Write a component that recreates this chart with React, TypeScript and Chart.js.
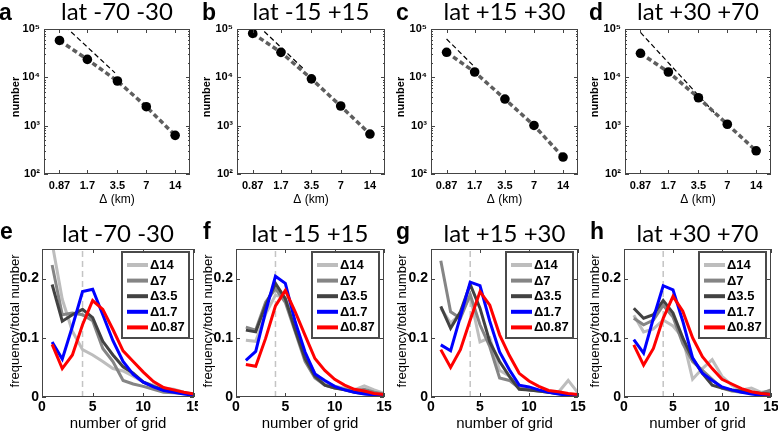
import React, { useEffect, useRef } from "react";
import { Chart, registerables } from "chart.js";

Chart.register(...registerables);

// ---------------- data ----------------
const DELTA_KM = [0.87, 1.7, 3.5, 7, 14];
const DELTA_LABELS = ["0.87", "1.7", "3.5", "7", "14"];
const COUNT_TICKS = [100, 1000, 10000, 100000];

const COUNT_A = [58000, 23500, 8400, 2470, 630];
const COUNT_B = [81000, 32900, 9300, 2550, 670];
const COUNT_C = [33000, 12900, 3550, 1010, 224];
const COUNT_D = [31400, 12900, 3780, 1070, 302];

const REF_A_X = [0.87, 3.3];
const REF_A_Y = [146000, 12400];
const REF_B_X = [0.87, 3.0];
const REF_B_Y = [150000, 14100];
const REF_C_X = [0.87, 1.65];
const REF_C_Y = [62000, 17400];
const REF_D_X = [0.87, 5.2];
const REF_D_Y = [85000, 1800];

const GRID_N = [1, 2, 3, 4, 5, 6, 7, 8, 9, 10, 11, 12, 13, 14, 15];
const GRID_TICKS = [0, 5, 10, 15];
const FREQ_TICKS = [0, 0.1, 0.2];
const SERIES_NAMES = ["Δ14", "Δ7", "Δ3.5", "Δ1.7", "Δ0.87"];
const SERIES_COLORS = ["#bdbdbd", "#858585", "#424242", "#0000ff", "#ff0000"];

const E_D14 = [0.26, 0.165, 0.111, 0.08, 0.071, 0.06, 0.048, 0.044, 0.035, 0.025, 0.02, 0.015, 0.013, 0.008, 0.005];
const E_D7 = [0.223, 0.139, 0.142, 0.139, 0.129, 0.082, 0.06, 0.028, 0.022, 0.018, 0.013, 0.008, 0.007, 0.006, 0.004];
const E_D35 = [0.19, 0.128, 0.139, 0.148, 0.134, 0.094, 0.071, 0.051, 0.04, 0.025, 0.018, 0.012, 0.01, 0.007, 0.004];
const E_D17 = [0.093, 0.064, 0.119, 0.178, 0.182, 0.139, 0.095, 0.06, 0.038, 0.025, 0.017, 0.011, 0.008, 0.005, 0.003];
const E_D087 = [0.089, 0.048, 0.071, 0.122, 0.163, 0.148, 0.114, 0.078, 0.06, 0.042, 0.026, 0.016, 0.012, 0.008, 0.005];

const F_D14 = [0.096, 0.094, 0.14, 0.172, 0.168, 0.12, 0.07, 0.04, 0.025, 0.018, 0.015, 0.012, 0.019, 0.012, 0.006];
const F_D7 = [0.118, 0.113, 0.16, 0.183, 0.16, 0.11, 0.06, 0.032, 0.02, 0.015, 0.013, 0.01, 0.013, 0.008, 0.005];
const F_D35 = [0.113, 0.11, 0.155, 0.192, 0.166, 0.113, 0.065, 0.035, 0.02, 0.015, 0.012, 0.008, 0.006, 0.004, 0.003];
const F_D17 = [0.062, 0.077, 0.144, 0.204, 0.192, 0.127, 0.076, 0.039, 0.028, 0.018, 0.012, 0.008, 0.005, 0.004, 0.003];
const F_D087 = [0.055, 0.052, 0.099, 0.154, 0.18, 0.144, 0.104, 0.065, 0.045, 0.03, 0.02, 0.013, 0.01, 0.006, 0.004];

const G_D14 = [0.15, 0.125, 0.14, 0.17, 0.093, 0.1, 0.045, 0.035, 0.015, 0.013, 0.01, 0.008, 0.008, 0.028, 0.007];
const G_D7 = [0.23, 0.144, 0.133, 0.173, 0.122, 0.085, 0.032, 0.028, 0.015, 0.012, 0.01, 0.008, 0.006, 0.004, 0.003];
const G_D35 = [0.153, 0.116, 0.144, 0.19, 0.15, 0.093, 0.06, 0.035, 0.013, 0.012, 0.01, 0.008, 0.006, 0.004, 0.003];
const G_D17 = [0.088, 0.078, 0.136, 0.194, 0.188, 0.128, 0.076, 0.046, 0.02, 0.017, 0.012, 0.008, 0.005, 0.003, 0.002];
const G_D087 = [0.08, 0.05, 0.08, 0.13, 0.178, 0.155, 0.105, 0.07, 0.04, 0.027, 0.018, 0.011, 0.009, 0.006, 0.004];

const H_D14 = [0.138, 0.11, 0.115, 0.13, 0.12, 0.1, 0.03, 0.048, 0.063, 0.035, 0.02, 0.012, 0.015, 0.008, 0.01];
const H_D7 = [0.133, 0.122, 0.13, 0.155, 0.135, 0.09, 0.06, 0.045, 0.03, 0.015, 0.01, 0.008, 0.008, 0.006, 0.012];
const H_D35 = [0.15, 0.133, 0.139, 0.163, 0.142, 0.1, 0.065, 0.04, 0.02, 0.015, 0.012, 0.01, 0.008, 0.006, 0.005];
const H_D17 = [0.097, 0.074, 0.133, 0.188, 0.181, 0.128, 0.066, 0.04, 0.028, 0.017, 0.012, 0.008, 0.005, 0.003, 0.002];
const H_D087 = [0.088, 0.054, 0.082, 0.133, 0.17, 0.145, 0.1, 0.068, 0.048, 0.03, 0.022, 0.014, 0.009, 0.006, 0.004];

// ---------------- layout / style ----------------
const SANS = '"Liberation Sans", Arial, Helvetica, sans-serif';
const TITLE_FONT = 'Lato, "Open Sans", sans-serif';

type Rect = [number, number, number, number];

interface PanelSpec {
  kind: "count" | "freq";
  letter: string;
  title: string;
  canvas: Rect; // x, y, w, h (absolute)
  plot: Rect; // x0, y0, x1, y1 (absolute)
  letterX: number;
  yTitleX: number;
  counts?: number[];
  refX?: number[];
  refY?: number[];
  series?: number[][];
}

const TOP = { letterBase: 20, titleBase: 20, yTitleY: 97, xTitleY: 199.5 };
const BOT = { letterBase: 238.5, titleBase: 241.5, yTitleY: 321, xTitleY: 424 };

const PANELS: PanelSpec[] = [
  { kind: "count", letter: "a", title: "lat -70 -30", canvas: [0, 0, 198, 215], plot: [44, 29, 190, 174], letterX: -1, yTitleX: 15.5, counts: COUNT_A, refX: REF_A_X, refY: REF_A_Y },
  { kind: "count", letter: "b", title: "lat -15 +15", canvas: [194, 0, 198, 215], plot: [237, 29, 385, 174], letterX: 202, yTitleX: 207, counts: COUNT_B, refX: REF_B_X, refY: REF_B_Y },
  { kind: "count", letter: "c", title: "lat +15 +30", canvas: [388, 0, 198, 215], plot: [431, 29, 578, 174], letterX: 396, yTitleX: 400.5, counts: COUNT_C, refX: REF_C_X, refY: REF_C_Y },
  { kind: "count", letter: "d", title: "lat +30 +70", canvas: [582, 0, 196, 215], plot: [625, 29, 771, 174], letterX: 589, yTitleX: 595, counts: COUNT_D, refX: REF_D_X, refY: REF_D_Y },
  { kind: "freq", letter: "e", title: "lat -70 -30", canvas: [0, 215, 198, 216], plot: [42, 249, 194, 397], letterX: 0, yTitleX: 15, series: [E_D14, E_D7, E_D35, E_D17, E_D087] },
  { kind: "freq", letter: "f", title: "lat -15 +15", canvas: [194, 215, 198, 216], plot: [236, 249, 384, 397], letterX: 203, yTitleX: 208.5, series: [F_D14, F_D7, F_D35, F_D17, F_D087] },
  { kind: "freq", letter: "g", title: "lat +15 +30", canvas: [388, 215, 198, 216], plot: [431, 249, 578, 397], letterX: 396, yTitleX: 402.5, series: [G_D14, G_D7, G_D35, G_D17, G_D087] },
  { kind: "freq", letter: "h", title: "lat +30 +70", canvas: [582, 215, 196, 216], plot: [624, 249, 771, 397], letterX: 590, yTitleX: 595.5, series: [H_D14, H_D7, H_D35, H_D17, H_D087] },
];

const SUP: Record<string, string> = { "0": "⁰", "1": "¹", "2": "²", "3": "³", "4": "⁴", "5": "⁵", "6": "⁶", "7": "⁷", "8": "⁸", "9": "⁹" };
const supText = (n: number) => String(n).split("").map((c) => SUP[c] || c).join("");

function makeDecor(p: PanelSpec) {
  const [cx, cy] = p.canvas;
  const isCount = p.kind === "count";
  const rows = isCount ? TOP : BOT;
  return {
    id: "decor_" + p.letter,
    afterDatasetsDraw(chart: any) {
      const { ctx, chartArea: a, scales } = chart;
      const xs = scales.x;
      const ys = scales.y;
      ctx.save();
      // axes box
      ctx.strokeStyle = "#444";
      ctx.lineWidth = 1;
      ctx.setLineDash([]);
      ctx.strokeRect(a.left + 0.5, a.top + 0.5, a.right - a.left - 1, a.bottom - a.top - 1);
      // inward ticks
      const major = 4;
      const minor = 2;
      ctx.beginPath();
      const xTicks = isCount ? DELTA_KM : GRID_TICKS;
      for (const v of xTicks) {
        const px = Math.round(xs.getPixelForValue(v)) + 0.5;
        ctx.moveTo(px, a.bottom);
        ctx.lineTo(px, a.bottom - major);
        ctx.moveTo(px, a.top);
        ctx.lineTo(px, a.top + major);
      }
      const yTicks = isCount ? COUNT_TICKS : FREQ_TICKS;
      for (const v of yTicks) {
        const py = Math.round(ys.getPixelForValue(v)) + 0.5;
        ctx.moveTo(a.left, py);
        ctx.lineTo(a.left + major, py);
        ctx.moveTo(a.right, py);
        ctx.lineTo(a.right - major, py);
      }
      if (isCount) {
        for (let d = 0; d < COUNT_TICKS.length - 1; d++) {
          for (let m = 2; m <= 9; m++) {
            const py = Math.round(ys.getPixelForValue(COUNT_TICKS[d] * m)) + 0.5;
            ctx.moveTo(a.left, py);
            ctx.lineTo(a.left + minor, py);
            ctx.moveTo(a.right, py);
            ctx.lineTo(a.right - minor, py);
          }
        }
      }
      ctx.stroke();

      // legend box (frequency panels)
      if (!isCount) {
        const w = 67;
        const h = 86;
        const bx = a.right - 5 - w;
        const by = a.top + 3;
        ctx.fillStyle = "#fff";
        ctx.fillRect(bx, by, w, h);
        ctx.strokeStyle = "#4a4a4a";
        ctx.lineWidth = 2;
        ctx.strokeRect(bx, by, w, h);
        ctx.font = "bold 13px " + SANS;
        ctx.textAlign = "left";
        ctx.textBaseline = "middle";
        SERIES_NAMES.forEach((name, i) => {
          const yy = by + 13 + i * 15.6;
          ctx.strokeStyle = SERIES_COLORS[i];
          ctx.lineWidth = 4;
          ctx.beginPath();
          ctx.moveTo(bx + 5, yy);
          ctx.lineTo(bx + 26, yy);
          ctx.stroke();
          ctx.fillStyle = "#000";
          ctx.fillText(name, bx + 28, yy + 0.5);
        });
      }
      ctx.restore();
    },
    afterDraw(chart: any) {
      const ctx = chart.ctx;
      const [x0, , x1] = p.plot;
      const midX = (x0 + x1) / 2 - cx;
      ctx.save();
      ctx.fillStyle = "#000";
      // panel letter
      ctx.font = "bold 23px " + SANS;
      ctx.textAlign = "left";
      ctx.textBaseline = "alphabetic";
      ctx.fillText(p.letter, p.letterX - cx, rows.letterBase - cy);
      // title
      ctx.font = "24px " + TITLE_FONT;
      ctx.textAlign = "center";
      ctx.fillText(p.title, midX, rows.titleBase - cy);
      // x title
      ctx.textBaseline = "middle";
      if (isCount) {
        ctx.font = "12px " + SANS;
        ctx.fillText("Δ (km)", midX, rows.xTitleY - cy);
      } else {
        ctx.font = "15px " + SANS;
        ctx.fillText("number of grid", midX, rows.xTitleY - cy);
      }
      // y title
      ctx.translate(p.yTitleX - cx, rows.yTitleY - cy);
      ctx.rotate(-Math.PI / 2);
      if (isCount) {
        ctx.font = "bold 11px " + SANS;
        ctx.fillText("number", 0, 0);
      } else {
        ctx.font = "13px " + SANS;
        ctx.fillText("frequency/total number", 0, 0);
      }
      ctx.restore();
    },
  };
}

function buildConfig(p: PanelSpec): any {
  const [cx, cy, cw, ch] = p.canvas;
  const [x0, y0, x1, y1] = p.plot;
  const L = x0 - cx;
  const R = cx + cw - x1;
  const T = y0 - cy;
  const B = cy + ch - y1;
  const isCount = p.kind === "count";

  const fitX = (s: any) => {
    s.height = B;
    s.paddingLeft = 0;
    s.paddingRight = 0;
  };
  const fitY = (s: any) => {
    s.width = L;
    s.paddingTop = 0;
    s.paddingBottom = 0;
  };

  let datasets: any[];
  let scales: any;
  if (isCount) {
    datasets = [
      {
        data: DELTA_KM.map((x, i) => ({ x, y: p.counts![i] })),
        borderColor: "#5e5e5e",
        borderWidth: 3.5,
        borderDash: [5, 3],
        pointRadius: 4.8,
        pointBackgroundColor: "#000",
        pointBorderColor: "#000",
        pointBorderWidth: 0,
        order: 0,
      },
      {
        data: p.refX!.map((x, i) => ({ x, y: p.refY![i] })),
        borderColor: "#000",
        borderWidth: 1.2,
        borderDash: [5, 3],
        pointRadius: 0,
        order: 1,
      },
    ];
    scales = {
      x: {
        type: "logarithmic",
        min: 0.6,
        max: 20,
        afterBuildTicks: (s: any) => {
          s.ticks = DELTA_KM.map((v) => ({ value: v }));
        },
        afterFit: fitX,
        ticks: {
          autoSkip: false,
          maxRotation: 0,
          padding: 5,
          color: "#000",
          font: { family: SANS, size: 11, weight: "bold" },
          callback: (v: any) => DELTA_LABELS[DELTA_KM.indexOf(Number(v))],
        },
        grid: { display: false, drawTicks: false },
        border: { display: false },
      },
      y: {
        type: "logarithmic",
        min: 100,
        max: 100000,
        afterBuildTicks: (s: any) => {
          s.ticks = COUNT_TICKS.map((v) => ({ value: v }));
        },
        afterFit: fitY,
        ticks: {
          autoSkip: false,
          padding: 4,
          color: "#000",
          font: { family: SANS, size: 11, weight: "bold" },
          callback: (v: any) => "10" + supText(Math.round(Math.log10(Number(v)))),
        },
        grid: { display: false, drawTicks: false },
        border: { display: false },
      },
    };
  } else {
    const orders = [4, 3, 2, 1, 0];
    datasets = p.series!.map((vals, si) => ({
      data: GRID_N.map((x, i) => ({ x, y: vals[i] })),
      borderColor: SERIES_COLORS[si],
      borderWidth: 3,
      pointRadius: 0,
      order: orders[si],
    }));
    datasets.push({
      data: [
        { x: 4, y: 0 },
        { x: 4, y: 0.25 },
      ],
      borderColor: "#c4c4c4",
      borderWidth: 1.5,
      borderDash: [6, 4],
      pointRadius: 0,
      order: 5,
    });
    scales = {
      x: {
        type: "linear",
        min: 0,
        max: 15,
        afterBuildTicks: (s: any) => {
          s.ticks = GRID_TICKS.map((v) => ({ value: v }));
        },
        afterFit: fitX,
        ticks: {
          autoSkip: false,
          maxRotation: 0,
          padding: 2,
          color: "#000",
          font: { family: SANS, size: 14, weight: "bold" },
          callback: (v: any) => String(v),
        },
        grid: { display: false, drawTicks: false },
        border: { display: false },
      },
      y: {
        type: "linear",
        min: 0,
        max: 0.25,
        afterBuildTicks: (s: any) => {
          s.ticks = FREQ_TICKS.map((v) => ({ value: v }));
        },
        afterFit: fitY,
        ticks: {
          autoSkip: false,
          padding: 3,
          color: "#000",
          font: { family: SANS, size: 14, weight: "bold" },
          callback: (v: any) => String(v),
        },
        grid: { display: false, drawTicks: false },
        border: { display: false },
      },
    };
  }

  return {
    type: "line",
    data: { datasets },
    options: {
      animation: false,
      responsive: false,
      maintainAspectRatio: false,
      devicePixelRatio: 1,
      layout: { padding: { left: 0, right: R, top: T, bottom: 0 } },
      plugins: {
        legend: { display: false },
        tooltip: { enabled: false },
        title: { display: false },
      },
      elements: { line: { tension: 0 } },
      scales,
    },
    plugins: [makeDecor(p)],
  };
}

function PanelCanvas({ spec }: { spec: PanelSpec }) {
  const ref = useRef<HTMLCanvasElement>(null);
  useEffect(() => {
    if (!ref.current) return;
    const chart = new Chart(ref.current, buildConfig(spec));
    return () => chart.destroy();
  }, [spec]);
  const [x, y, w, h] = spec.canvas;
  return (
    <canvas
      ref={ref}
      width={w}
      height={h}
      style={{ position: "absolute", left: x, top: y, width: w, height: h }}
    />
  );
}

export default function App() {
  return (
    <div
      style={{
        position: "absolute",
        left: 0,
        top: 0,
        width: 778,
        height: 431,
        background: "#fff",
        overflow: "hidden",
      }}
    >
      {PANELS.map((p) => (
        <PanelCanvas key={p.letter} spec={p} />
      ))}
    </div>
  );
}
